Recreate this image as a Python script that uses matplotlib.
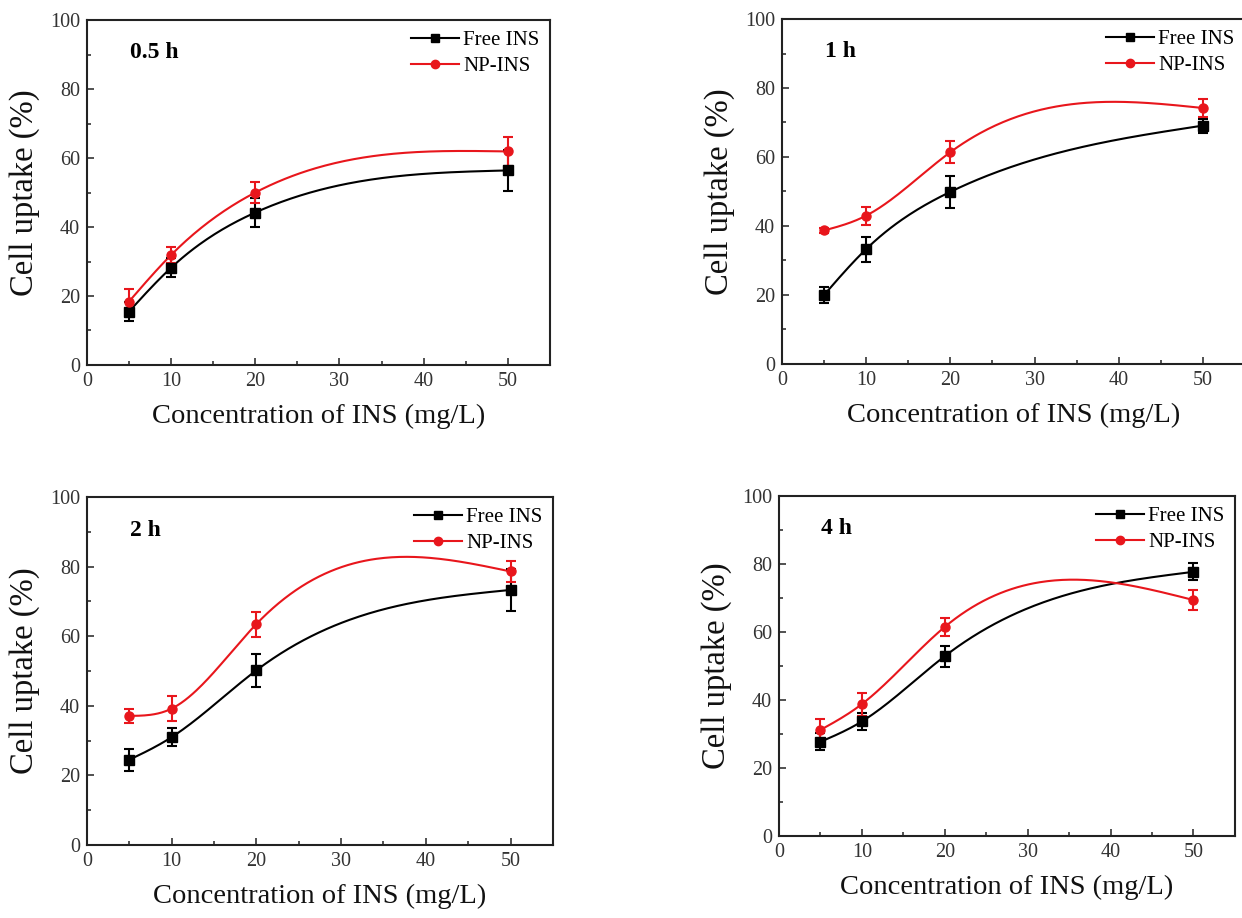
import numpy as np
import matplotlib
matplotlib.use('Agg')
import matplotlib.pyplot as plt

plt.rcParams['font.family'] = ['Liberation Serif', 'DejaVu Serif']

conc = [5, 10, 20, 50]
times = ['0.5 h', '1 h', '2 h', '4 h']

free_mean = [[15.5, 28.2, 44.2, 56.4],
             [20.0, 33.3, 49.9, 69.1],
             [24.5, 31.0, 50.2, 73.3],
             [27.7, 33.7, 52.9, 77.7]]
free_err = [[2.8, 2.8, 4.2, 6.0],
            [2.2, 3.6, 4.7, 2.0],
            [3.2, 2.6, 4.8, 6.0],
            [2.5, 2.5, 3.1, 2.5]]
np_mean = [[18.4, 31.9, 50.0, 61.9],
           [38.7, 43.0, 61.4, 74.2],
           [37.1, 39.2, 63.5, 78.6],
           [31.2, 38.8, 61.5, 69.4]]
np_err = [[3.5, 2.3, 3.0, 4.3],
          [0.8, 2.6, 3.2, 2.6],
          [2.0, 3.7, 3.6, 3.0],
          [3.2, 3.4, 2.7, 3.0]]

boxes = [[0.0700, 0.6024, 0.3728, 0.3758],
         [0.6296, 0.6035, 0.3728, 0.3758],
         [0.0700, 0.0795, 0.3752, 0.3791],
         [0.6272, 0.0893, 0.3671, 0.3704]]

RED = '#e8161c'
TICK = '#333333'


def spline_line(x, y, n=200):
    # natural cubic spline, only for drawing the connecting line (Origin "spline" style)
    x = np.asarray(x, float)
    y = np.asarray(y, float)
    k = len(x)
    h = np.diff(x)
    A = np.zeros((k, k))
    b = np.zeros(k)
    A[0, 0] = 1
    A[-1, -1] = 1
    for i in range(1, k - 1):
        A[i, i - 1] = h[i - 1]
        A[i, i] = 2 * (h[i - 1] + h[i])
        A[i, i + 1] = h[i]
        b[i] = 6 * ((y[i + 1] - y[i]) / h[i] - (y[i] - y[i - 1]) / h[i - 1])
    M = np.linalg.solve(A, b)
    xs = np.linspace(x[0], x[-1], n)
    ys = np.empty_like(xs)
    for j, t in enumerate(xs):
        i = min(np.searchsorted(x, t, side='right') - 1, k - 2)
        a = x[i + 1] - t
        c = t - x[i]
        ys[j] = (M[i] * a ** 3 + M[i + 1] * c ** 3) / (6 * h[i]) \
            + (y[i] / h[i] - M[i] * h[i] / 6) * a \
            + (y[i + 1] / h[i] - M[i + 1] * h[i] / 6) * c
    return xs, ys


fig = plt.figure(figsize=(12.42, 9.18), dpi=100)

for p in range(4):
    ax = fig.add_axes(boxes[p])
    for mean, err, col, mk, lab in [(free_mean[p], free_err[p], 'black', 's', 'Free INS'),
                                    (np_mean[p], np_err[p], RED, 'o', 'NP-INS')]:
        xs, ys = spline_line(conc, mean)
        ax.plot(xs, ys, color=col, lw=1.5, zorder=2)
        ax.errorbar(conc, mean, yerr=err, fmt='none', ecolor=col, elinewidth=1.5,
                    capsize=3.5, capthick=1.5, zorder=3)
        ax.plot(conc, mean, linestyle='none', marker=mk, color=col, ms=6.5, zorder=4)
        ax.plot([], [], color=col, lw=1.5, marker=mk, ms=6, label=lab)

    ax.set_xlim(0, 55)
    ax.set_ylim(0, 100)
    ax.set_xticks([0, 10, 20, 30, 40, 50])
    ax.set_xticks([5, 15, 25, 35, 45], minor=True)
    ax.set_yticks([0, 20, 40, 60, 80, 100])
    ax.set_yticks([10, 30, 50, 70, 90], minor=True)
    ax.tick_params(which='both', direction='in', top=False, right=False,
                   labelsize=14.5, labelcolor=TICK, color=TICK, width=1.2)
    ax.tick_params(which='major', length=5, pad=5)
    ax.tick_params(which='minor', length=3)
    for s in ax.spines.values():
        s.set_linewidth(1.5)
        s.set_color('#222222')

    ax.set_xlabel('Concentration of INS (mg/L)', fontsize=20.5, labelpad=9, color='#111111')
    ax.set_ylabel('Cell uptake (%)', fontsize=23.5, labelpad=7, color='#111111')
    ax.text(0.093, 0.905, times[p], transform=ax.transAxes, fontsize=17,
            fontweight='bold', va='center', ha='left')
    ax.legend(loc='upper right', frameon=False, fontsize=15, handlelength=2.3,
              handletextpad=0.2, labelspacing=0.3, borderaxespad=0.2,
              borderpad=0.3)

fig.savefig('out.png', dpi=100)
